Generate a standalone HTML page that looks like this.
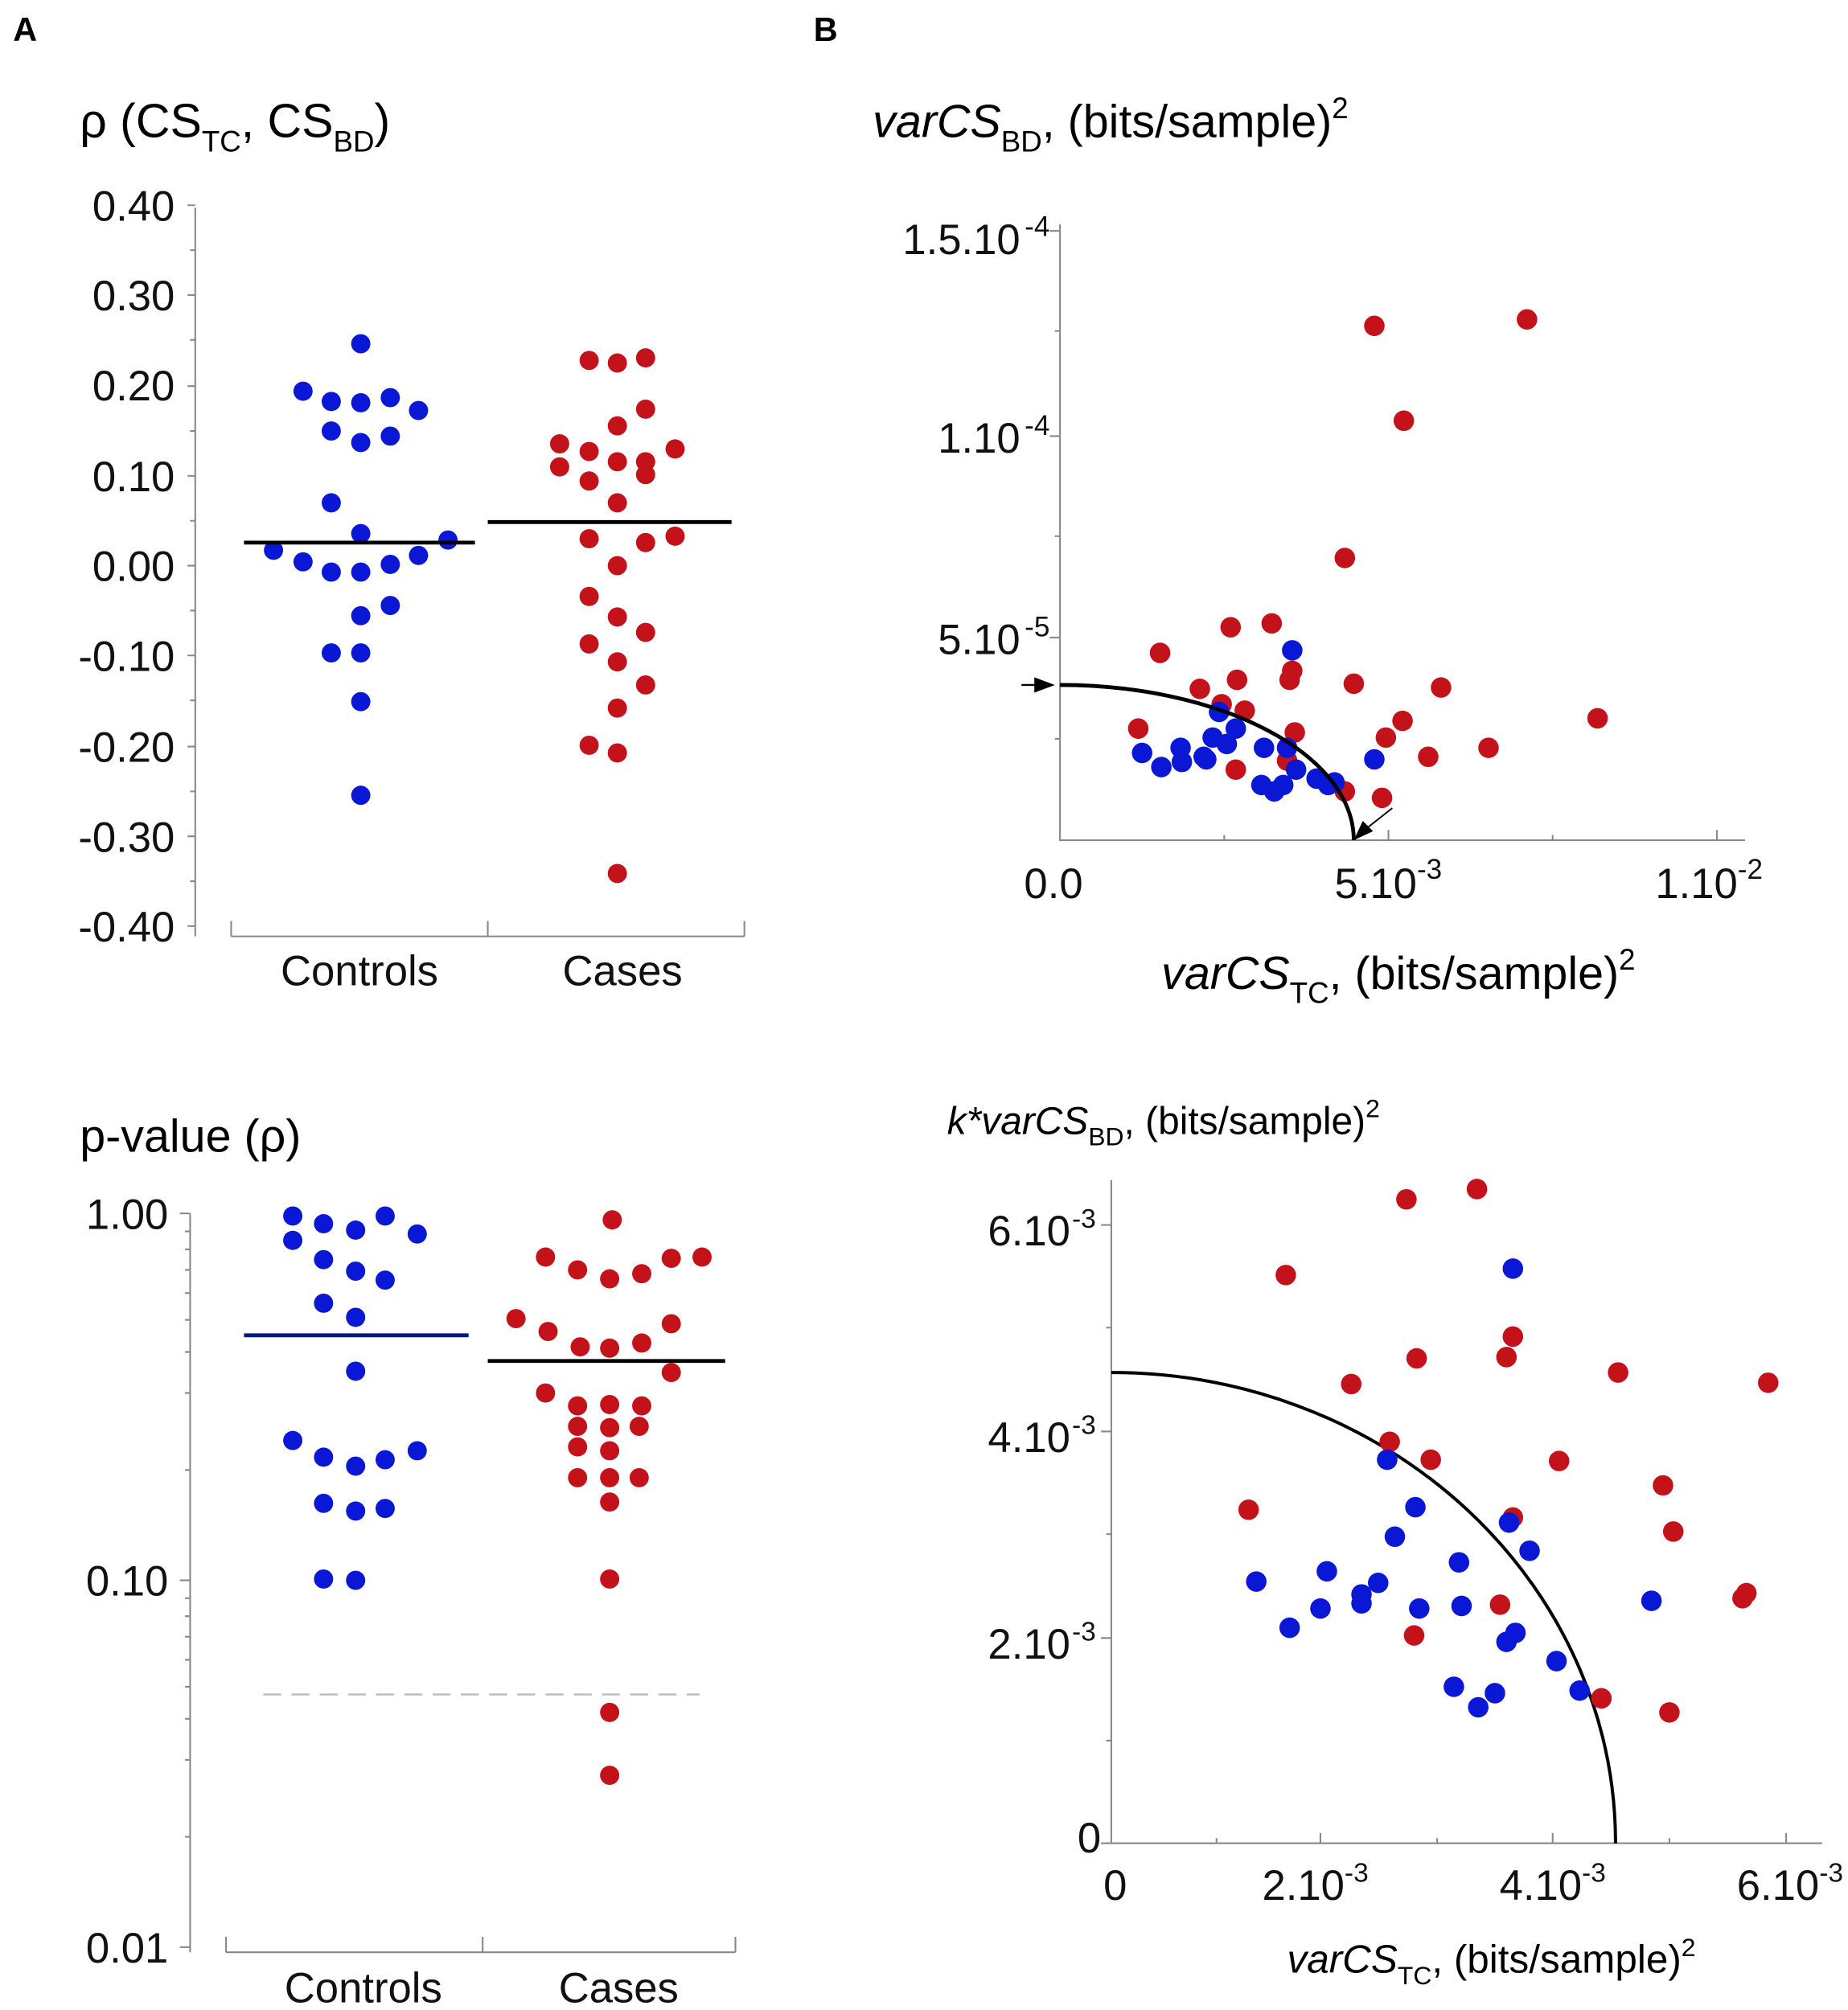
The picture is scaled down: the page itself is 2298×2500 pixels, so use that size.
<!DOCTYPE html>
<html><head><meta charset="utf-8"><style>html,body{margin:0;padding:0;background:#fff}svg{display:block}</style></head><body>
<svg width="2298" height="2500" viewBox="0 0 1440 1567" xmlns="http://www.w3.org/2000/svg" font-family="Liberation Sans, Arial, sans-serif">
<defs><style>.b{fill:#0a18d6}.r{fill:#c4121a}.ax{stroke:#888;stroke-width:1.3;fill:none}.t{font-size:33px;fill:#111}</style></defs>
<text x="10" y="32" font-size="26" font-weight="bold">A</text>
<text x="634" y="32" font-size="26" font-weight="bold">B</text>

<!-- Panel A top -->
<text x="62" y="107" font-size="37">ρ (CS<tspan font-size="23" dy="11">TC</tspan><tspan dy="-11">, CS</tspan><tspan font-size="23" dy="11">BD</tspan><tspan dy="-11">)</tspan></text>
<g class="ax">
<path d="M152 162V730 M180 730H580 M180 730v-12 M380 730v-12 M580 730v-12"/>
<path d="M152 160h-6M152 195h-4M152 230h-6M152 265h-4M152 301h-6M152 336h-4M152 371h-6M152 406h-4M152 441h-6M152 476h-4M152 511h-6M152 546h-4M152 582h-6M152 617h-4M152 652h-6M152 687h-4M152 722h-6"/>
</g>
<g class="t" text-anchor="end">
<text x="136" y="172">0.40</text><text x="136" y="242">0.30</text><text x="136" y="312">0.20</text><text x="136" y="383">0.10</text><text x="136" y="453">0.00</text><text x="136" y="523">-0.10</text><text x="136" y="594">-0.20</text><text x="136" y="664">-0.30</text><text x="136" y="734">-0.40</text>
</g>
<text class="t" x="280" y="768" text-anchor="middle" font-size="36">Controls</text>
<text class="t" x="485" y="768" text-anchor="middle" font-size="36">Cases</text>
<g class="b">
<circle cx="281" cy="268" r="7.5"/><circle cx="236" cy="305" r="7.5"/><circle cx="258" cy="313" r="7.5"/><circle cx="281" cy="314" r="7.5"/><circle cx="304" cy="310" r="7.5"/><circle cx="326" cy="320" r="7.5"/><circle cx="258" cy="336" r="7.5"/><circle cx="281" cy="345" r="7.5"/><circle cx="304" cy="340" r="7.5"/><circle cx="258" cy="392" r="7.5"/><circle cx="281" cy="416" r="7.5"/><circle cx="349" cy="421" r="7.5"/><circle cx="213" cy="429" r="7.5"/><circle cx="236" cy="438" r="7.5"/><circle cx="258" cy="446" r="7.5"/><circle cx="281" cy="446" r="7.5"/><circle cx="304" cy="440" r="7.5"/><circle cx="326" cy="433" r="7.5"/><circle cx="304" cy="472" r="7.5"/><circle cx="281" cy="480" r="7.5"/><circle cx="258" cy="509" r="7.5"/><circle cx="281" cy="509" r="7.5"/><circle cx="281" cy="547" r="7.5"/><circle cx="281" cy="620" r="7.5"/>
</g>
<g class="r">
<circle cx="459" cy="281" r="7.5"/><circle cx="481" cy="283" r="7.5"/><circle cx="503" cy="279" r="7.5"/><circle cx="481" cy="332" r="7.5"/><circle cx="503" cy="319" r="7.5"/><circle cx="436" cy="346" r="7.5"/><circle cx="459" cy="352" r="7.5"/><circle cx="481" cy="360" r="7.5"/><circle cx="503" cy="360" r="7.5"/><circle cx="526" cy="350" r="7.5"/><circle cx="436" cy="364" r="7.5"/><circle cx="459" cy="375" r="7.5"/><circle cx="503" cy="370" r="7.5"/><circle cx="481" cy="392" r="7.5"/><circle cx="459" cy="420" r="7.5"/><circle cx="481" cy="441" r="7.5"/><circle cx="503" cy="423" r="7.5"/><circle cx="526" cy="418" r="7.5"/><circle cx="459" cy="465" r="7.5"/><circle cx="481" cy="481" r="7.5"/><circle cx="503" cy="493" r="7.5"/><circle cx="459" cy="502" r="7.5"/><circle cx="481" cy="516" r="7.5"/><circle cx="503" cy="534" r="7.5"/><circle cx="481" cy="552" r="7.5"/><circle cx="459" cy="581" r="7.5"/><circle cx="481" cy="587" r="7.5"/><circle cx="481" cy="681" r="7.5"/>
</g>
<path d="M190 423H370M380 407H570" stroke="#000" stroke-width="3"/>

<!-- Panel A bottom -->
<text x="62" y="898" font-size="36">p-value (ρ)</text>
<g class="ax">
<path d="M148 946V1522 M176 1522H573 M176 1522v-12 M376 1522v-12 M573 1522v-12"/>
<path d="M148 946h-8M148 1232h-8M148 1518h-8 M148 960h-4M148 974h-4M148 990h-4M148 1008h-4M148 1029h-4M148 1054h-4M148 1086h-4M148 1146h-4 M148 1246h-4M148 1260h-4M148 1276h-4M148 1294h-4M148 1315h-4M148 1340h-4M148 1372h-4M148 1432h-4"/>
</g>
<g class="t" text-anchor="end"><text x="131" y="958">1.00</text><text x="131" y="1244">0.10</text><text x="131" y="1530">0.01</text></g>
<text class="t" x="283" y="1561" text-anchor="middle" font-size="36">Controls</text>
<text class="t" x="482" y="1561" text-anchor="middle" font-size="36">Cases</text>
<path d="M205 1321H545" stroke="#bbb" stroke-width="1.5" stroke-dasharray="14 8"/>
<g class="b">
<circle cx="228" cy="948" r="7.5"/><circle cx="252" cy="954" r="7.5"/><circle cx="277" cy="959" r="7.5"/><circle cx="300" cy="948" r="7.5"/><circle cx="325" cy="962" r="7.5"/><circle cx="228" cy="967" r="7.5"/><circle cx="252" cy="982" r="7.5"/><circle cx="277" cy="991" r="7.5"/><circle cx="300" cy="998" r="7.5"/><circle cx="252" cy="1016" r="7.5"/><circle cx="277" cy="1027" r="7.5"/><circle cx="277" cy="1069" r="7.5"/><circle cx="228" cy="1123" r="7.5"/><circle cx="252" cy="1136" r="7.5"/><circle cx="277" cy="1143" r="7.5"/><circle cx="300" cy="1138" r="7.5"/><circle cx="325" cy="1131" r="7.5"/><circle cx="252" cy="1172" r="7.5"/><circle cx="277" cy="1178" r="7.5"/><circle cx="300" cy="1176" r="7.5"/><circle cx="252" cy="1231" r="7.5"/><circle cx="277" cy="1232" r="7.5"/>
</g>
<g class="r">
<circle cx="477" cy="951" r="7.5"/><circle cx="425" cy="980" r="7.5"/><circle cx="450" cy="990" r="7.5"/><circle cx="475" cy="997" r="7.5"/><circle cx="500" cy="993" r="7.5"/><circle cx="523" cy="981" r="7.5"/><circle cx="547" cy="980" r="7.5"/><circle cx="402" cy="1028" r="7.5"/><circle cx="427" cy="1038" r="7.5"/><circle cx="452" cy="1050" r="7.5"/><circle cx="475" cy="1051" r="7.5"/><circle cx="500" cy="1047" r="7.5"/><circle cx="523" cy="1032" r="7.5"/><circle cx="523" cy="1070" r="7.5"/><circle cx="425" cy="1086" r="7.5"/><circle cx="450" cy="1096" r="7.5"/><circle cx="475" cy="1095" r="7.5"/><circle cx="500" cy="1096" r="7.5"/><circle cx="450" cy="1112" r="7.5"/><circle cx="475" cy="1113" r="7.5"/><circle cx="498" cy="1112" r="7.5"/><circle cx="450" cy="1128" r="7.5"/><circle cx="475" cy="1131" r="7.5"/><circle cx="450" cy="1152" r="7.5"/><circle cx="475" cy="1152" r="7.5"/><circle cx="498" cy="1152" r="7.5"/><circle cx="475" cy="1171" r="7.5"/><circle cx="475" cy="1231" r="7.5"/><circle cx="475" cy="1335" r="7.5"/><circle cx="475" cy="1384" r="7.5"/>
</g>
<path d="M190 1041H365" stroke="#001a7a" stroke-width="3"/>
<path d="M380 1061H565" stroke="#000" stroke-width="3"/>

<!-- Panel B top -->
<text x="680" y="107" font-size="36"><tspan font-style="italic">varCS</tspan><tspan font-size="23" dy="11">BD</tspan><tspan dy="-11">, (bits/sample)</tspan><tspan font-size="23" dy="-15">2</tspan></text>
<g class="ax" stroke="#666">
<path d="M826 175V655H1360 M826 180h-8M826 340h-8M826 497h-8M826 258h-4M826 418h-4M826 576h-4M1082 655v-8M1338 655v-8M954 655v-4M1210 655v-4"/>
</g>
<g class="t" font-size="36" text-anchor="end">
<text x="795" y="198">1.5.10</text><text x="818" y="184" font-size="22">-4</text>
<text x="795" y="353">1.10</text><text x="818" y="339" font-size="22">-4</text>
<text x="795" y="510">5.10</text><text x="818" y="496" font-size="22">-5</text>
</g>
<g class="t" font-size="36">
<text x="798" y="700">0.0</text>
<text x="1040" y="700">5.10<tspan font-size="22" dy="-15">-3</tspan></text>
<text x="1290" y="700">1.10<tspan font-size="22" dy="-15">-2</tspan></text>
</g>
<text x="905" y="771" font-size="36"><tspan font-style="italic">varCS</tspan><tspan font-size="23" dy="11">TC</tspan><tspan dy="-11">, (bits/sample)</tspan><tspan font-size="23" dy="-15">2</tspan></text>
<g class="r">
<circle cx="1071" cy="254" r="8"/><circle cx="1190" cy="249" r="8"/><circle cx="1094" cy="328" r="8"/><circle cx="1048" cy="435" r="8"/><circle cx="904" cy="509" r="8"/><circle cx="959" cy="489" r="8"/><circle cx="991" cy="486" r="8"/><circle cx="964" cy="530" r="8"/><circle cx="1007" cy="523" r="8"/><circle cx="1005" cy="530" r="8"/><circle cx="1055" cy="533" r="8"/><circle cx="1123" cy="536" r="8"/><circle cx="935" cy="537" r="8"/><circle cx="952" cy="549" r="8"/><circle cx="970" cy="554" r="8"/><circle cx="1093" cy="562" r="8"/><circle cx="887" cy="568" r="8"/><circle cx="1009" cy="571" r="8"/><circle cx="1080" cy="575" r="8"/><circle cx="1245" cy="560" r="8"/><circle cx="1160" cy="583" r="8"/><circle cx="1113" cy="590" r="8"/><circle cx="963" cy="600" r="8"/><circle cx="1003" cy="593" r="8"/><circle cx="1048" cy="617" r="8"/><circle cx="1077" cy="622" r="8"/>
</g>
<g class="b">
<circle cx="1007" cy="507" r="8"/><circle cx="950" cy="555" r="8"/><circle cx="963" cy="568" r="8"/><circle cx="945" cy="575" r="8"/><circle cx="956" cy="580" r="8"/><circle cx="890" cy="587" r="8"/><circle cx="920" cy="583" r="8"/><circle cx="938" cy="590" r="8"/><circle cx="985" cy="583" r="8"/><circle cx="1003" cy="583" r="8"/><circle cx="905" cy="598" r="8"/><circle cx="921" cy="594" r="8"/><circle cx="940" cy="592" r="8"/><circle cx="1010" cy="600" r="8"/><circle cx="1026" cy="607" r="8"/><circle cx="1035" cy="612" r="8"/><circle cx="983" cy="612" r="8"/><circle cx="993" cy="617" r="8"/><circle cx="1000" cy="612" r="8"/><circle cx="1071" cy="592" r="8"/><circle cx="1040" cy="610" r="8"/>
</g>
<path d="M826 534A229 121 0 0 1 1055 655" stroke="#000" stroke-width="3" fill="none"/>
<path d="M796 534H810" stroke="#000" stroke-width="1.5"/>
<path d="M806 528L822 534L806 540Z M1055 655L1062 640L1070 648Z"/>
<path d="M1066 645L1085 630" stroke="#000" stroke-width="1.2"/>

<!-- Panel B bottom -->
<text x="738" y="884" font-size="30"><tspan font-style="italic">k*varCS</tspan><tspan font-size="20" dy="9">BD</tspan><tspan dy="-9">, (bits/sample)</tspan><tspan font-size="20" dy="-13">2</tspan></text>
<g class="ax" stroke="#666">
<path d="M866 920V1437H1420 M866 955h-8M866 1116h-8M866 1277h-8M866 1437h-8M866 1035h-4M866 1196h-4M866 1357h-4 M1029 1437v-8M1210 1437v-8M1392 1437v-8M948 1437v-4M1120 1437v-4M1301 1437v-4"/>
</g>
<g class="t" text-anchor="end">
<text x="834" y="971">6.10</text><text x="854" y="957" font-size="21">-3</text>
<text x="834" y="1132">4.10</text><text x="854" y="1118" font-size="21">-3</text>
<text x="834" y="1293">2.10</text><text x="854" y="1279" font-size="21">-3</text>
<text x="858" y="1444">0</text>
</g>
<g class="t" text-anchor="middle">
<text x="869" y="1481">0</text>
<text x="1025" y="1481">2.10<tspan font-size="21" dy="-14">-3</tspan></text>
<text x="1210" y="1481">4.10<tspan font-size="21" dy="-14">-3</tspan></text>
<text x="1395" y="1481">6.10<tspan font-size="21" dy="-14">-3</tspan></text>
</g>
<text x="1003" y="1538" font-size="31"><tspan font-style="italic">varCS</tspan><tspan font-size="20" dy="9">TC</tspan><tspan dy="-9">, (bits/sample)</tspan><tspan font-size="20" dy="-13">2</tspan></text>
<path d="M866 1070A393 367 0 0 1 1259 1437" stroke="#000" stroke-width="2.5" fill="none"/>
<g class="r">
<circle cx="1096" cy="935" r="8"/><circle cx="1151" cy="927" r="8"/><circle cx="1002" cy="994" r="8"/><circle cx="1104" cy="1059" r="8"/><circle cx="1174" cy="1058" r="8"/><circle cx="1179" cy="1042" r="8"/><circle cx="1053" cy="1079" r="8"/><circle cx="1261" cy="1070" r="8"/><circle cx="1378" cy="1078" r="8"/><circle cx="1083" cy="1124" r="8"/><circle cx="1115" cy="1138" r="8"/><circle cx="1215" cy="1139" r="8"/><circle cx="1296" cy="1158" r="8"/><circle cx="973" cy="1177" r="8"/><circle cx="1179" cy="1183" r="8"/><circle cx="1304" cy="1194" r="8"/><circle cx="1169" cy="1251" r="8"/><circle cx="1361" cy="1242" r="8"/><circle cx="1358" cy="1246" r="8"/><circle cx="1102" cy="1275" r="8"/><circle cx="1248" cy="1324" r="8"/><circle cx="1301" cy="1335" r="8"/>
</g>
<g class="b">
<circle cx="1179" cy="989" r="8"/><circle cx="1081" cy="1138" r="8"/><circle cx="1103" cy="1175" r="8"/><circle cx="1087" cy="1198" r="8"/><circle cx="1176" cy="1187" r="8"/><circle cx="1192" cy="1209" r="8"/><circle cx="979" cy="1233" r="8"/><circle cx="1034" cy="1225" r="8"/><circle cx="1074" cy="1234" r="8"/><circle cx="1061" cy="1243" r="8"/><circle cx="1061" cy="1250" r="8"/><circle cx="1029" cy="1254" r="8"/><circle cx="1106" cy="1254" r="8"/><circle cx="1137" cy="1218" r="8"/><circle cx="1139" cy="1252" r="8"/><circle cx="1005" cy="1269" r="8"/><circle cx="1287" cy="1248" r="8"/><circle cx="1181" cy="1273" r="8"/><circle cx="1174" cy="1280" r="8"/><circle cx="1213" cy="1295" r="8"/><circle cx="1231" cy="1318" r="8"/><circle cx="1133" cy="1315" r="8"/><circle cx="1165" cy="1320" r="8"/><circle cx="1152" cy="1331" r="8"/>
</g>
</svg>
</body></html>
